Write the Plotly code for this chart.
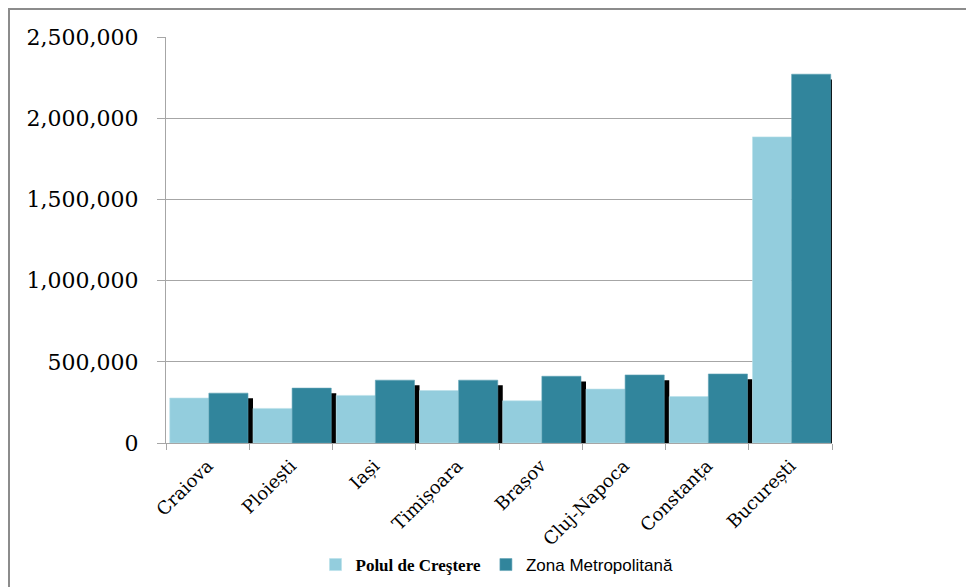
import plotly.graph_objects as go

categories = ["Craiova", "Ploiești", "Iași", "Timișoara", "Brașov", "Cluj-Napoca", "Constanța", "București"]
polul = [277000, 213000, 293000, 323000, 260000, 332000, 286000, 1885000]
zona = [307000, 338000, 387000, 387000, 411000, 419000, 425000, 2271000]
y_ticks = [0, 500000, 1000000, 1500000, 2000000, 2500000]
shadow_drop = 32000

LIGHT = "#93CDDD"
DARK = "#31859C"

OFF = 8  # page body margin
W, H = 974, 587
# desired plot area in screenshot pixels: x 166..832, y 37..443
L, T = 166 - OFF, 37 - OFF
pw, ph = 666, 406
R = W - L - pw
B = H - T - ph

def sx(px):  # screen x -> paper
    return (px - OFF - L) / pw

def sy(py):  # screen y -> paper
    return (T + ph - (py - OFF)) / ph

fig = go.Figure()
fig.add_trace(go.Bar(
    x=categories, y=[v - shadow_drop for v in zona],
    offset=0.075, width=0.47, marker=dict(color="#000000", line=dict(width=0)),
    showlegend=False, hoverinfo="skip"))
fig.add_trace(go.Bar(
    x=categories, y=polul,
    name='<span style="font-family:\'Liberation Serif\'; font-weight:bold">Polul de Creştere</span>',
    offset=-0.455, width=0.47,
    marker=dict(color=LIGHT, line=dict(color="#B8E0EA", width=0.6))))
fig.add_trace(go.Bar(
    x=categories, y=zona,
    name='<span style="font-family:\'Liberation Sans Narrow\', \'Liberation Sans\'">Zona Metropolitană</span>',
    offset=0.015, width=0.47,
    marker=dict(color=DARK, line=dict(color="#5FA3B6", width=0.6))))

fig.update_layout(
    width=W, height=H,
    margin=dict(l=L, r=R, t=T, b=B, pad=0),
    barmode="overlay",
    paper_bgcolor="white", plot_bgcolor="white",
    showlegend=True,
    legend=dict(orientation="h", x=sx(497), y=sy(565),
                xanchor="center", yanchor="middle",
                font=dict(family="Liberation Sans", size=17, color="#000000"),
                traceorder="normal", tracegroupgap=0),
    yaxis=dict(range=[0, 2500000], tickvals=y_ticks, tickformat=",d",
               showgrid=True, gridcolor="#A6A6A6", gridwidth=1.3,
               showline=True, linecolor="#A6A6A6", linewidth=1.3,
               ticks="outside", ticklen=8, tickcolor="#A6A6A6",
               ticklabelstandoff=14,
               tickfont=dict(family="DejaVu Serif", size=22, color="#000000"),
               zeroline=False, fixedrange=True),
    xaxis=dict(type="category", tickangle=-45, tickson="boundaries",
               showline=True, linecolor="#A6A6A6", linewidth=1.3,
               ticks="outside", ticklen=6, tickcolor="#A6A6A6",
               ticklabelstandoff=4,
               tickfont=dict(family="DejaVu Serif", size=18, color="#000000"),
               range=[-0.5, len(categories) - 0.5], fixedrange=True),
    shapes=[dict(type="rect", xref="paper", yref="paper",
                 x0=sx(9), x1=sx(1000),
                 y0=sy(640), y1=sy(9),
                 line=dict(color="#8C8C8C", width=2), fillcolor="rgba(0,0,0,0)",
                 layer="below")],
)

fig.write_html("out.html")
